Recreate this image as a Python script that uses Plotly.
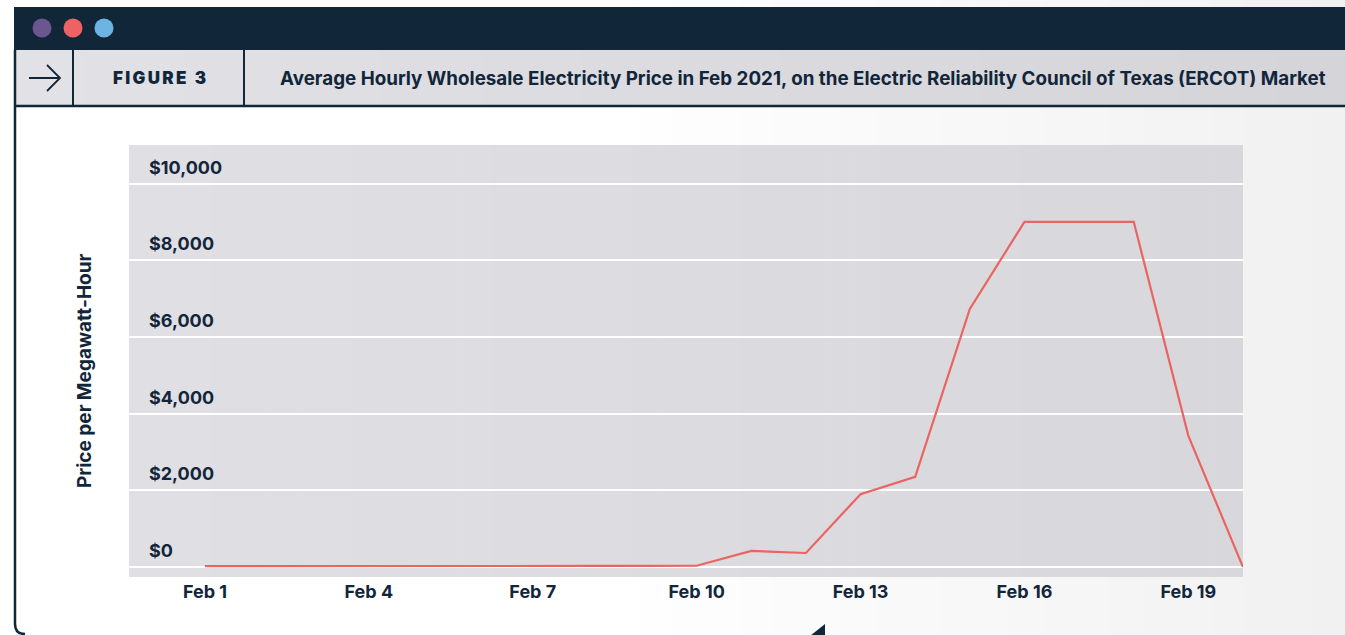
import plotly.graph_objects as go

# ---------------- data ----------------
days = list(range(1, 21))
prices = [22, 20, 25, 24, 26, 28, 30, 27, 30, 32,
          420, 365, 1900, 2350, 6730, 9000, 9000, 9000, 3420, 0]
x_tick_vals = [1, 4, 7, 10, 13, 16, 19]
x_tick_text = ["Feb 1", "Feb 4", "Feb 7", "Feb 10", "Feb 13", "Feb 16", "Feb 19"]
y_tick_vals = [0, 2000, 4000, 6000, 8000, 10000]
y_tick_text = ["$0", "$2,000", "$4,000", "$6,000", "$8,000", "$10,000"]

TITLE = "Average Hourly Wholesale Electricity Price in Feb 2021, on the Electric Reliability Council of Texas (ERCOT) Market"
FIG_LABEL = "\u2009".join("FIGURE") + "\u2002" + "3"
Y_TITLE = "Price per Megawatt-Hour"

# ---------------- layout geometry ----------------
W, H = 1345, 635
PL, PR, PT, PB = 129, 1243, 145, 577
NAVY = "#12263a"
FONT = "Inter"


def px(x):
    return (x - PL) / (PR - PL)


def py(y):
    return (PB - y) / (PB - PT)


def lerp_col(c1, c2, t):
    a = [int(c1[i:i + 2], 16) for i in (1, 3, 5)]
    b = [int(c2[i:i + 2], 16) for i in (1, 3, 5)]
    return "#%02x%02x%02x" % tuple(round(a[k] + (b[k] - a[k]) * t) for k in range(3))


shapes = []


def rect(x0, y0, x1, y1, color, line_w=0, line_c=None):
    shapes.append(dict(type="rect", xref="paper", yref="paper", layer="below",
                       x0=px(x0), x1=px(x1), y0=py(y1), y1=py(y0),
                       fillcolor=color, line=dict(width=line_w, color=line_c or color)))


def gradient(x0, y0, x1, y1, c_left, c_right, n=30, start_frac=0.0):
    width = x1 - x0
    for i in range(n):
        a = x0 + width * i / n
        b = x0 + width * (i + 1) / n + 0.6
        t = i / (n - 1)
        t = max(0.0, (t - start_frac) / (1 - start_frac)) if start_frac < 1 else 0
        rect(a, y0, min(b, x1), y1, lerp_col(c_left, c_right, t))


# page background gradient
gradient(0, 0, W, H, "#ffffff", "#f1f1f1", n=40, start_frac=0.45)
# dark top bar
rect(14, 7, W, 50, NAVY)
# header row gradient
gradient(16, 50, W, 105, "#e2e1e5", "#d5d4d9", n=40)
# plot area gradient
gradient(PL, PT, PR, PB, "#e0dfe4", "#d8d7dc", n=40)


def line(x0, y0, x1, y1, w=2, c=NAVY):
    shapes.append(dict(type="line", xref="paper", yref="paper", layer="above",
                       x0=px(x0), x1=px(x1), y0=py(y0), y1=py(y1),
                       line=dict(width=w, color=c)))


line(14, 106, W, 106, w=2.5)
line(73, 50, 73, 106, w=2)
line(244, 50, 244, 106, w=2)

# left frame border with rounded corner
path = "M %f,%f L %f,%f Q %f,%f %f,%f" % (
    px(15), py(50), px(15), py(624), px(15), py(634), px(25), py(634))
shapes.append(dict(type="path", xref="paper", yref="paper", path=path,
                   line=dict(width=2.5, color=NAVY), layer="above"))

# arrow icon
arrow = "M %f,%f L %f,%f M %f,%f L %f,%f L %f,%f" % (
    px(29), py(78), px(60), py(78),
    px(47), py(65), px(60), py(78), px(47), py(91))
shapes.append(dict(type="path", xref="paper", yref="paper", path=arrow,
                   line=dict(width=1.8, color=NAVY), layer="above"))

# window dots
for cx, col in [(42, "#6b5690"), (73, "#ee6263"), (104, "#6cb4e1")]:
    r = 9.5
    shapes.append(dict(type="circle", xref="paper", yref="paper", layer="above",
                       x0=px(cx - r), x1=px(cx + r), y0=py(28 + r), y1=py(28 - r),
                       fillcolor=col, line=dict(width=0)))

# bottom tail triangle
tri = "M %f,%f L %f,%f L %f,%f Z" % (px(825), py(624), px(825), py(640), px(805), py(640))
shapes.append(dict(type="path", xref="paper", yref="paper", path=tri,
                   fillcolor=NAVY, line=dict(width=0), layer="above"))

annotations = [
    dict(text=FIG_LABEL, xref="paper", yref="paper", x=px(159), y=py(78),
         xanchor="center", yanchor="middle", showarrow=False,
         font=dict(family=FONT, size=17, color=NAVY, weight=900)),
    dict(text=TITLE, xref="paper", yref="paper", x=px(278), y=py(78),
         xanchor="left", yanchor="middle", showarrow=False,
         font=dict(family=FONT, size=18.8, color=NAVY, weight=700)),
    dict(text=Y_TITLE, xref="paper", yref="paper", x=px(84), y=py(371),
         xanchor="center", yanchor="middle", showarrow=False, textangle=-90,
         font=dict(family=FONT, size=19, color=NAVY, weight=700)),
]
for v, t in zip(y_tick_vals, y_tick_text):
    annotations.append(dict(text=t, xref="paper", yref="y", x=px(147), y=v,
                            xanchor="left", yanchor="bottom", yshift=4, showarrow=False,
                            font=dict(family=FONT, size=18, color=NAVY, weight=700)))

fig = go.Figure()
fig.add_trace(go.Scatter(x=days, y=prices, mode="lines",
                         line=dict(color="#ea6461", width=2.2),
                         hoverinfo="x+y", showlegend=False))

fig.update_layout(
    width=W, height=H,
    margin=dict(l=PL, r=W - PR, t=PT, b=H - PB, pad=0),
    paper_bgcolor="#ffffff",
    plot_bgcolor="rgba(0,0,0,0)",
    shapes=shapes,
    annotations=annotations,
    showlegend=False,
    xaxis=dict(range=[1 - 76 / 54.67, 20.0], tickvals=x_tick_vals, ticktext=x_tick_text,
               showgrid=False, zeroline=False, showline=False, ticks="",
               ticklabelstandoff=2,
               tickfont=dict(family=FONT, size=18, color=NAVY, weight=700)),
    yaxis=dict(range=[-261, 11004], tickvals=y_tick_vals, showticklabels=False,
               showgrid=True, gridcolor="#ffffff", gridwidth=2.2,
               zeroline=True, zerolinecolor="#ffffff", zerolinewidth=2.2,
               showline=False, ticks=""),
)

fig.write_html("out.html")
